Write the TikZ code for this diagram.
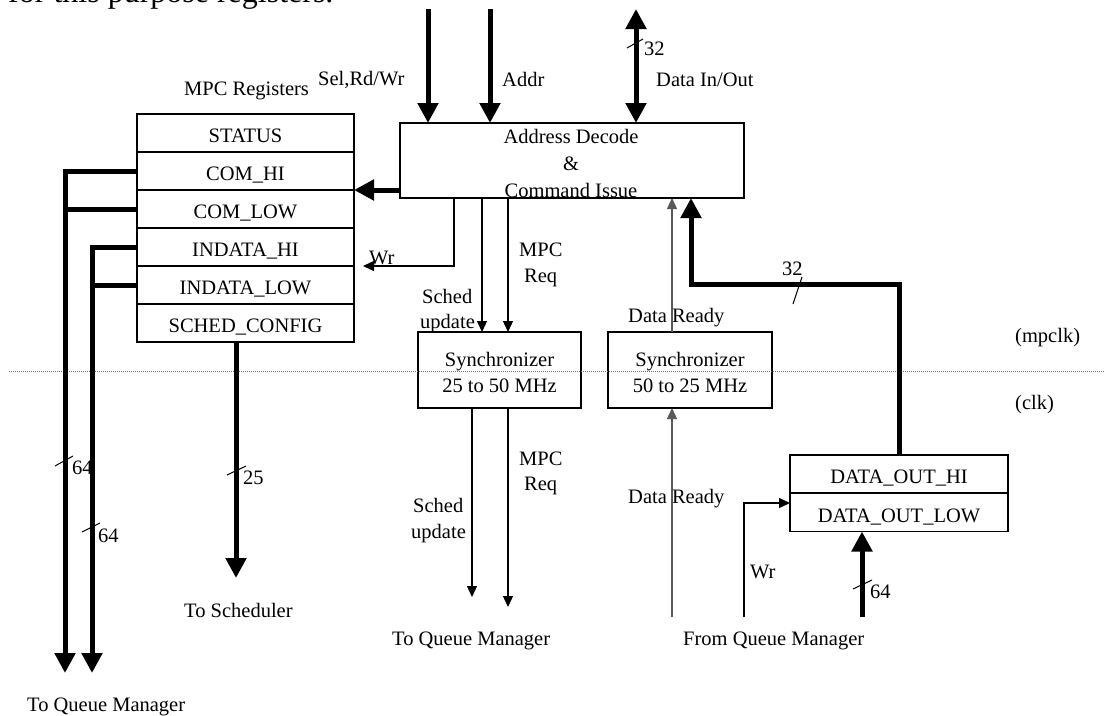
\documentclass[tikz,border=0pt]{standalone}
\usepackage{fontspec}
\setmainfont{Liberation Serif}
\usetikzlibrary{arrows.meta}
\definecolor{drgray}{gray}{0.35}
\definecolor{dotgray}{gray}{0.45}

\begin{document}
\begin{tikzpicture}[x=1pt,y=-1pt,
  font=\fontsize{20.5}{26}\selectfont,
  box/.style={draw, line width=1.3pt, inner sep=0pt, outer sep=0pt},
  reg/.style={box, minimum width=217pt, minimum height=38pt, text height=22pt, text depth=3pt},
  bus/.style={line width=5pt, -{Triangle[width=20pt,length=20pt]}},
  busline/.style={line width=5pt},
  sig/.style={line width=1.3pt, -{Triangle[width=10pt,length=11pt]}},
  lbl/.style={inner sep=0pt, anchor=base west},
  ctr/.style={inner sep=0pt, anchor=base},
  tick/.style={line width=1pt},
]
\useasboundingbox (0,0) rectangle (1105,715);

% running text above the figure
\node[lbl, font=\fontsize{32}{36}\selectfont] (intro) at (8,2) {for this purpose registers.};

% ---------------- MPC register file ----------------
\node[lbl] (mpclbl) at (184,95) {MPC Registers};
\node[reg] (status) at (245.5,133) {STATUS};
\node[reg] (comhi)  at (245.5,171) {COM\_HI};
\node[reg] (comlow) at (245.5,209) {COM\_LOW};
\node[reg] (inhi)   at (245.5,247) {INDATA\_HI};
\node[reg] (inlow)  at (245.5,285) {INDATA\_LOW};
\node[reg] (sched)  at (245.5,323) {SCHED\_CONFIG};

% ---------------- address decode ----------------
\node[box, minimum width=344pt, minimum height=75pt] (addr) at (572,160.5) {};
\node[ctr] (addrA) at (571,143) {Address Decode};
\node[ctr] (addrB) at (571,170) {\&};
\node[ctr] (addrC) at (571,197) {Command Issue};

% ---------------- synchronizers ----------------
\node[box, minimum width=163pt, minimum height=76pt] (sync1) at (499.5,370) {};
\node[ctr] (s1a) at (499.5,366) {Synchronizer};
\node[ctr] (s1b) at (499.5,392) {25 to 50 MHz};
\node[box, minimum width=164pt, minimum height=76pt] (sync2) at (690,370) {};
\node[ctr] (s2a) at (690,366) {Synchronizer};
\node[ctr] (s2b) at (690,392) {50 to 25 MHz};

% ---------------- output data registers ----------------
\node[reg, minimum width=218pt] (dohi)  at (899,474) {DATA\_OUT\_HI};
\node[reg, minimum width=218pt] (dolow) at (899,512.5) {DATA\_OUT\_LOW};

% clock domain boundary
\coordinate (domL) at (9,371);
\coordinate (domR) at (1105,371);
\draw[dotgray, line width=0.9pt, dash pattern=on 1pt off 1pt] (domL) -- (domR);
\node[lbl] (mpclk) at (1015,342) {(mpclk)};
\node[lbl] (clk)   at (1015,409) {(clk)};

% ---------------- host interface ----------------
\coordinate (selTop)  at (428,9);
\coordinate (adrTop)  at (490,9);
\coordinate (datTop)  at (636,9);
\draw[bus] (selTop) -- (selTop |- addr.north);
\draw[bus] (adrTop) -- (adrTop |- addr.north);
\draw[line width=5pt, {Triangle[width=20pt,length=20pt]}-{Triangle[width=20pt,length=20pt]}] (datTop) -- (datTop |- addr.north);
\draw[tick] (627,48) -- (643,39);
\node[lbl] (w32a) at (644,55) {32};
\node[lbl] (lblSel)  at (318,85) {Sel,Rd/Wr};
\node[lbl] (lblAddr) at (502,86) {Addr};
\node[lbl] (lblData) at (656,86) {Data In/Out};

% command path into the register file
\draw[bus] (addr.west |- comhi.south) -- (comhi.south east);

% write strobe to the register file
\coordinate (wrEnd) at (363,266);
\draw[sig] (addr.south -| 454,0) -- (454,266) -- (wrEnd);
\node[lbl] (lblWr1) at (369,264) {Wr};

% requests towards the clk domain
\draw[sig] (addr.south -| 482,0) -- (sync1.north -| 482,0);
\draw[sig] (addr.south -| 508,0) -- (sync1.north -| 508,0);
\node[lbl] (mpc1)  at (519,256) {MPC};
\node[lbl] (req1)  at (524,282) {Req};
\node[lbl] (sch1)  at (422,303) {Sched};
\node[lbl] (upd1)  at (420,328) {update};

% data ready back into the mpclk domain
\draw[sig, drgray] (sync2.north -| 672,0) -- (addr.south -| 672,0);
\node[lbl] (dr1) at (628,322) {Data Ready};

% 32-bit read data path
\coordinate (bend) at (691,284);
\draw[bus] (dohi.north) |- (bend) -- (bend |- addr.south);
\draw[tick] (793,304) -- (802,277);
\node[lbl] (w32b) at (782,275) {32};

% ---------------- register outputs ----------------
\coordinate (colA) at (65,171);
\coordinate (colB) at (92,247);
\coordinate (endA) at (65,673);
\coordinate (endB) at (92,673);
\draw[bus] (comhi.west) -- (colA) -- (endA);
\draw[busline] (comlow.west) -- (comlow.west -| colA);
\draw[bus] (inhi.west) -- (colB) -- (endB);
\draw[busline] (inlow.west) -- (inlow.west -| colB);
\draw[tick] (55,466) -- (73,456);
\node[lbl] (w64a) at (72,474) {64};
\draw[tick] (82,532) -- (100,523);
\node[lbl] (w64b) at (98,542) {64};
\node[lbl] (toqmL) at (27,711) {To Queue Manager};

\coordinate (schEnd) at (236,578);
\draw[bus] (sched.south -| schEnd) -- (schEnd);
\draw[tick] (227,475) -- (246,466);
\node[lbl] (w25) at (243,484) {25};
\node[lbl] (tosch) at (184,617) {To Scheduler};

% ---------------- clk domain side ----------------
\coordinate (suEnd) at (472,597);
\coordinate (mrEnd) at (508,607);
\draw[sig] (sync1.south -| suEnd) -- (suEnd);
\draw[sig] (sync1.south -| mrEnd) -- (mrEnd);
\node[lbl] (mpc2) at (519,465) {MPC};
\node[lbl] (req2) at (524,490) {Req};
\node[lbl] (sch2) at (413,512) {Sched};
\node[lbl] (upd2) at (411,538) {update};
\node[lbl] (toqmM) at (392,645) {To Queue Manager};

\coordinate (drStart) at (672,617);
\draw[sig, drgray] (drStart) -- (drStart |- sync2.south);
\node[lbl] (dr2) at (628,503) {Data Ready};

\coordinate (wrStart) at (744,617);
\coordinate (wrIn) at (790,503);
\draw[sig] (wrStart) |- (wrIn);
\node[lbl] (lblWr2) at (750,578) {Wr};

\coordinate (inStart) at (862,617);
\draw[bus] (inStart) -- (inStart |- dolow.south);
\draw[tick] (853,589) -- (872,580);
\node[lbl] (w64c) at (870,598) {64};
\node[lbl] (fromqm) at (683,645) {From Queue Manager};
\end{tikzpicture}
\end{document}
